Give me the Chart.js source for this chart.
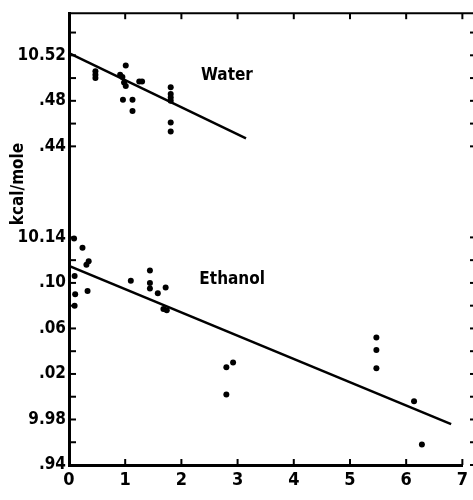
<!DOCTYPE html>
<html><head><meta charset="utf-8">
<script src="https://cdn.jsdelivr.net/npm/chart.js@4/dist/chart.umd.min.js"></script>
<style>html,body{margin:0;padding:0;background:#fff}</style>
</head><body>
<canvas id="c" width="473" height="500"></canvas>
<script>
// ---- data (true kcal/mole values) ----
const waterX = [0.47,0.47,0.47,1.01,0.91,0.95,0.98,1.01,1.25,1.30,0.96,1.13,1.13,1.81,1.81,1.81,1.81,1.81,1.81];
const waterY = [10.506,10.503,10.500,10.511,10.503,10.501,10.496,10.493,10.497,10.497,10.481,10.481,10.471,10.492,10.486,10.483,10.480,10.461,10.453];
const ethanolX = [0.09,0.24,0.35,0.31,0.10,0.11,0.10,0.33,1.10,1.44,1.44,1.44,1.58,1.72,1.68,1.74,2.80,2.92,2.80,5.47,5.47,5.47,6.14,6.28];
const ethanolY = [10.139,10.131,10.119,10.116,10.106,10.090,10.080,10.093,10.102,10.111,10.100,10.095,10.091,10.096,10.077,10.076,10.026,10.030,10.002,10.052,10.041,10.025,9.996,9.958];
const waterLineX = [0, 3.15];
const waterLineY = [10.522, 10.447];
const ethanolLineX = [0, 6.8];
const ethanolLineY = [10.115, 9.976];
// broken axis: water segment is shifted down by this amount
const waterOffset = 0.22;
// tick values in axis units, and their printed labels
const yTickValues = [9.94, 9.98, 10.02, 10.06, 10.10, 10.14, 10.22, 10.26, 10.30];
const yTickLabels = ['.94', '9.98', '.02', '.06', '.10', '10.14', '.44', '.48', '10.52'];
const yMinorTicks = [9.94,9.96,9.98,10.00,10.02,10.04,10.06,10.08,10.10,10.12,10.14,10.22,10.24,10.26,10.28,10.30,10.32];
const xTickValues = [0,1,2,3,4,5,6,7];
const yTitle = 'kcal/mole';
const seriesLabels = ['Water', 'Ethanol'];

const FONT = "'Liberation Sans Narrow','DejaVu Sans Condensed','Roboto Condensed',sans-serif";

const pts = (xs, ys, off) => xs.map((x, i) => ({x: x, y: +(ys[i] - off).toFixed(4)}));

const deco = {
  id: 'deco',
  afterDraw(chart) {
    const ctx = chart.ctx, a = chart.chartArea;
    const xs = chart.scales.x, ys = chart.scales.y;
    ctx.save();
    ctx.strokeStyle = '#000';
    // top spine
    ctx.lineWidth = 2;
    ctx.beginPath(); ctx.moveTo(a.left, a.top); ctx.lineTo(chart.width, a.top); ctx.stroke();
    // inward ticks
    ctx.lineWidth = 2;
    yMinorTicks.forEach(v => {
      const p = ys.getPixelForValue(v);
      ctx.beginPath(); ctx.moveTo(a.left, p); ctx.lineTo(a.left + 7, p); ctx.stroke();
      ctx.beginPath(); ctx.moveTo(chart.width - 3, p); ctx.lineTo(chart.width, p); ctx.stroke();
    });
    xTickValues.slice(1).forEach(v => {
      const p = xs.getPixelForValue(v);
      ctx.beginPath(); ctx.moveTo(p, a.bottom); ctx.lineTo(p, a.bottom - 6); ctx.stroke();
      ctx.beginPath(); ctx.moveTo(p, a.top); ctx.lineTo(p, a.top + 6); ctx.stroke();
    });
    // series labels
    ctx.fillStyle = '#000';
    ctx.font = 'bold 17px ' + FONT;
    ctx.textBaseline = 'middle';
    ctx.textAlign = 'left';
    ctx.fillText(seriesLabels[0], xs.getPixelForValue(2.35), ys.getPixelForValue(10.502 - waterOffset));
    ctx.fillText(seriesLabels[1], xs.getPixelForValue(2.32), ys.getPixelForValue(10.1026));
    // y title
    ctx.translate(19, 184);
    ctx.rotate(-Math.PI / 2);
    ctx.textAlign = 'center';
    ctx.fillText(yTitle, 0, 0);
    ctx.restore();
  }
};

new Chart(document.getElementById('c'), {
  type: 'scatter',
  data: {
    datasets: [
      {label: seriesLabels[0], data: pts(waterX, waterY, waterOffset), backgroundColor: '#000', borderColor: '#000', pointRadius: 3, pointBorderWidth: 0},
      {label: seriesLabels[1], data: pts(ethanolX, ethanolY, 0), backgroundColor: '#000', borderColor: '#000', pointRadius: 3, pointBorderWidth: 0},
      {type: 'line', data: pts(waterLineX, waterLineY, waterOffset), borderColor: '#000', borderWidth: 2.5, pointRadius: 0, showLine: true, fill: false},
      {type: 'line', data: pts(ethanolLineX, ethanolLineY, 0), borderColor: '#000', borderWidth: 2.5, pointRadius: 0, showLine: true, fill: false}
    ]
  },
  options: {
    responsive: false,
    animation: false,
    events: [],
    layout: {padding: {top: 12, right: 5, left: 0, bottom: 0}},
    plugins: {legend: {display: false}, tooltip: {enabled: false}},
    scales: {
      x: {
        type: 'linear', min: 0, max: 7,
        afterBuildTicks: s => { s.ticks = xTickValues.map(v => ({value: v})); },
        afterFit: s => { s.height = 35; },
        grid: {display: false, drawTicks: false},
        border: {display: true, color: '#000', width: 3},
        ticks: {color: '#000', padding: 5, font: {family: FONT, size: 18, weight: 'bold'}}
      },
      y: {
        type: 'linear', min: 9.94, max: 10.337,
        afterBuildTicks: s => { s.ticks = yTickValues.map(v => ({value: v})); },
        afterFit: s => { s.width = 69; },
        grid: {display: false, drawTicks: false},
        border: {display: true, color: '#000', width: 3},
        ticks: {
          color: '#000', padding: 3, font: {family: FONT, size: 17, weight: 'bold'},
          callback: (v) => { const i = yTickValues.findIndex(t => Math.abs(t - v) < 1e-6); return i >= 0 ? yTickLabels[i] : ''; }
        }
      }
    }
  },
  plugins: [deco]
});
</script>
</body></html>
